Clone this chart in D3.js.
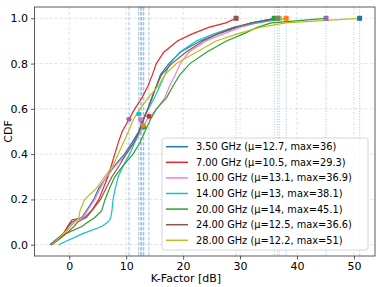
<!DOCTYPE html>
<html>
<head>
<meta charset="utf-8">
<script src="https://cdn.jsdelivr.net/npm/d3@7"></script>
<style>
  body { margin: 0; background: #fff; }
  text { font-family: 'DejaVu Sans', sans-serif; }
</style>
</head>
<body>
<div id="chart"></div>
<script>
// CDF levels shared by all series, and the K-factor (dB) read at each level
const levels = [0, 0.05, 0.08, 0.1, 0.11, 0.12, 0.15, 0.2, 0.25, 0.3, 0.35, 0.4, 0.45, 0.5, 0.55, 0.6, 0.65, 0.7, 0.75, 0.8, 0.85, 0.9, 0.93, 0.96, 0.98, 1.0];

const labels = ['3.50 GHz (\u03bc=12.7, max=36)', '7.00 GHz (\u03bc=10.5, max=29.3)', '10.00 GHz (\u03bc=13.1, max=36.9)',
  '14.00 GHz (\u03bc=13, max=38.1)', '20.00 GHz (\u03bc=14, max=45.1)', '24.00 GHz (\u03bc=12.5, max=36.6)', '28.00 GHz (\u03bc=12.2, max=51)'];
const lineColors = ['#1f77b4', '#e8262a', '#f77fcf', '#17becf', '#2ca02c', '#8c564b', '#bcbd22'];

const k35 = [-3.4, -1.0, -0.2, 0.5, 1.2, 2.2, 3.0, 4.3, 5.2, 6.6, 8.0, 9.7, 11.0, 12.2, 12.9, 13.8, 14.6, 15.3, 16.0, 17.5, 19.5, 23.0, 26.0, 29.5, 32.0, 36.0];
const k7  = [-3.2, -1.0, -0.3, 0.2, 0.5, 2.7, 3.9, 5.2, 6.0, 6.8, 7.4, 8.0, 8.6, 9.3, 10.4, 11.5, 12.8, 13.8, 14.6, 15.3, 16.6, 19.0, 21.5, 24.5, 27.5, 29.3];
const k10 = [-3.0, -0.8, 0.2, 0.8, 1.6, 2.4, 3.2, 4.5, 5.5, 6.5, 8.2, 10.0, 11.4, 12.6, 13.6, 15.4, 16.8, 17.6, 18.6, 19.5, 21.0, 24.0, 27.0, 30.0, 33.0, 36.9];
const k14 = [-1.9, 2.5, 5.7, 6.8, 7.1, 7.3, 7.5, 7.7, 8.1, 8.6, 9.5, 10.6, 11.5, 12.4, 13.0, 13.9, 15.0, 15.9, 16.8, 17.7, 19.4, 22.3, 25.3, 28.8, 33.0, 38.1];
const k20 = [-3.2, -0.5, 2.2, 3.3, 3.9, 4.5, 5.7, 6.3, 7.1, 8.0, 9.5, 11.2, 12.4, 13.3, 14.2, 15.3, 17.1, 18.2, 19.4, 21.2, 24.1, 27.6, 30.5, 33.0, 35.5, 45.1];
const k24 = [-3.0, -0.5, 0.8, 1.5, 2.2, 3.0, 4.0, 5.5, 6.5, 7.5, 8.8, 10.0, 11.3, 12.3, 13.0, 13.8, 14.5, 15.3, 16.2, 18.0, 20.5, 23.5, 26.0, 29.0, 32.0, 36.6];
const k28 = [-3.0, -1.0, 0.2, 1.0, 1.4, 1.7, 1.9, 2.7, 4.8, 6.2, 7.7, 8.6, 9.5, 10.4, 11.2, 12.4, 13.9, 15.6, 16.8, 18.8, 22.3, 25.8, 29.4, 33.5, 38.0, 51.0];
const series = [k35, k7, k10, k14, k20, k24, k28];

// mean markers (circles) and max markers (squares)
const meanX = [12.7, 10.5, 13.1, 13.0, 14.0, 12.5, 12.2];
const meanY = [0.55, 0.554, 0.52, 0.528, 0.567, 0.554, 0.577];
const meanColors = ['#1f77b4', '#9467bd', '#2ca02c', '#ff7f0e', '#d62728', '#e377c2', '#17becf'];
const maxX = [36.0, 29.3, 36.9, 38.1, 45.1, 36.6, 51.0];
const maxColors = ['#2ca02c', '#8c564b', '#bcbd22', '#ff7f0e', '#9467bd', '#7f7f7f', '#1f77b4'];

const xTicks = [0, 10, 20, 30, 40, 50];
const yTicks = [0, 0.2, 0.4, 0.6, 0.8, 1.0];

const W = 382, H = 287;
const M = { top: 7, right: 7, bottom: 31, left: 34.5 };
const iW = W - M.left - M.right, iH = H - M.top - M.bottom;

const svg = d3.select('#chart').append('svg').attr('width', W).attr('height', H);
const g = svg.append('g').attr('transform', `translate(${M.left},${M.top})`);

const x = d3.scaleLinear().domain([-6.1, 53.7]).range([0, iW]);
const y = d3.scaleLinear().domain([-0.05, 1.05]).range([iH, 0]);

// grid
g.append('g').selectAll('line').data(xTicks).join('line')
  .attr('x1', d => x(d)).attr('x2', d => x(d)).attr('y1', 0).attr('y2', iH)
  .attr('stroke', '#ccc').attr('stroke-width', 0.8).attr('stroke-dasharray', '3,2').attr('opacity', 0.7);
g.append('g').selectAll('line').data(yTicks).join('line')
  .attr('y1', d => y(d)).attr('y2', d => y(d)).attr('x1', 0).attr('x2', iW)
  .attr('stroke', '#ccc').attr('stroke-width', 0.8).attr('stroke-dasharray', '3,2').attr('opacity', 0.7);

// mean (dashed) and max (dotted) guides
g.append('g').selectAll('line').data(meanX).join('line')
  .attr('x1', d => x(d)).attr('x2', d => x(d)).attr('y1', 0).attr('y2', iH)
  .attr('stroke', '#8fb8d8').attr('stroke-width', 1).attr('stroke-dasharray', '3.5,1.5').attr('opacity', 0.8);
g.append('g').selectAll('line').data(maxX).join('line')
  .attr('x1', d => x(d)).attr('x2', d => x(d)).attr('y1', 0).attr('y2', iH)
  .attr('stroke', '#8fb8d8').attr('stroke-width', 1).attr('stroke-dasharray', '1,1.6').attr('opacity', 0.8);

const line = d3.line().x(d => x(d[0])).y(d => y(d[1]));
series.forEach((s, i) => {
  g.append('path').datum(s.map((v, j) => [v, levels[j]]))
    .attr('fill', 'none').attr('stroke', lineColors[i]).attr('stroke-width', 1.2).attr('d', line);
});

g.append('g').selectAll('circle').data(meanX).join('circle')
  .attr('cx', d => x(d)).attr('cy', (d, i) => y(meanY[i])).attr('r', 2.5)
  .attr('fill', (d, i) => meanColors[i]);
g.append('g').selectAll('rect').data(maxX).join('rect')
  .attr('x', d => x(d) - 2.5).attr('y', y(1) - 2.5).attr('width', 5).attr('height', 5)
  .attr('fill', (d, i) => maxColors[i]);

// axes
const xa = g.append('g').attr('transform', `translate(0,${iH})`)
  .call(d3.axisBottom(x).tickValues(xTicks).tickSize(3.5).tickPadding(3).tickFormat(d3.format('d')));
const ya = g.append('g')
  .call(d3.axisLeft(y).tickValues(yTicks).tickSize(3.5).tickPadding(3).tickFormat(d3.format('.1f')));
[xa, ya].forEach(a => {
  a.select('.domain').remove();
  a.selectAll('text').style('font-size', '11px').attr('fill', '#000').style('font-family', 'DejaVu Sans');
  a.selectAll('line').attr('stroke', '#333').attr('stroke-width', 0.8);
});
g.append('rect').attr('width', iW).attr('height', iH).attr('fill', 'none').attr('stroke', '#333').attr('stroke-width', 0.8);

svg.append('text').attr('x', M.left + x(20.5)).attr('y', 282).attr('text-anchor', 'middle')
  .style('font-size', '11px').text('K-Factor [dB]');
svg.append('text').attr('transform', `translate(12,${M.top + iH / 2}) rotate(-90)`).attr('text-anchor', 'middle')
  .style('font-size', '11px').text('CDF');

// legend
const lg = svg.append('g').attr('transform', 'translate(162,138)');
lg.append('rect').attr('width', 206).attr('height', 112).attr('rx', 2.5)
  .attr('fill', '#fff').attr('fill-opacity', 0.8).attr('stroke', '#ccc').attr('stroke-width', 0.8);
labels.forEach((t, i) => {
  const yy = 8.7 + i * 15.6;
  lg.append('line').attr('x1', 4).attr('x2', 26).attr('y1', yy).attr('y2', yy)
    .attr('stroke', lineColors[i]).attr('stroke-width', 1.5);
  lg.append('text').attr('x', 34).attr('y', yy).attr('dy', '0.35em')
    .style('font-size', '9.8px').text(t);
});
</script>
</body>
</html>
